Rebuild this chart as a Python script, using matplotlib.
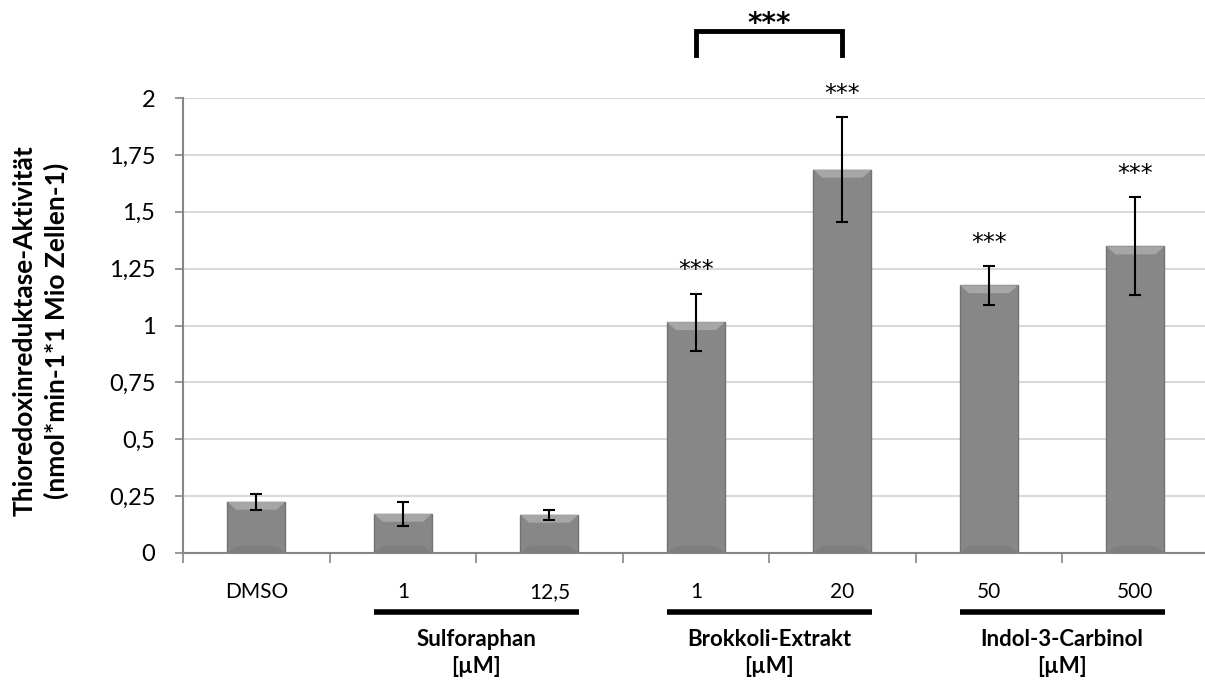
import matplotlib
matplotlib.use("Agg")
import matplotlib.pyplot as plt
from matplotlib.patches import Polygon

categories = ["DMSO", "1", "12,5", "1", "20", "50", "500"]
values = [0.225, 0.172, 0.168, 1.015, 1.685, 1.177, 1.348]
errors = [0.035, 0.053, 0.022, 0.125, 0.230, 0.085, 0.215]
stars = ["", "", "", "***", "***", "***", "***"]
group_names = ["Sulforaphan", "Brokkoli-Extrakt", "Indol-3-Carbinol"]
group_unit = "[µM]"
group_members = [(1, 2), (3, 4), (5, 6)]
yticks = [0, 0.25, 0.5, 0.75, 1, 1.25, 1.5, 1.75, 2]
ytick_labels = ["0", "0,25", "0,5", "0,75", "1", "1,25", "1,5", "1,75", "2"]
ylabel = "Thioredoxinreduktase-Aktivität\n(nmol*min-1*1 Mio Zellen-1)"
bracket_pair = (3, 4)
bracket_label = "***"

plt.rcParams['font.family'] = ['Lato', 'DejaVu Sans']

fig = plt.figure(figsize=(12.05, 6.81), dpi=100)
ax = fig.add_axes([0.152, 0.188, 0.851, 0.668])

x = list(range(len(categories)))
bw = 0.395
ax.bar(x, values, width=bw, color="#878787", edgecolor="#727272",
       linewidth=1.0, zorder=2)
# simple bevel highlight on top and bottom of each bar
for xi, v in zip(x, values):
    h = 0.035
    d = 0.06
    poly = Polygon([(xi - bw/2, v), (xi + bw/2, v), (xi + bw/2 - d, v - h), (xi - bw/2 + d, v - h)],
                   closed=True, facecolor="#a6a6a6", edgecolor="none", zorder=3)
    ax.add_patch(poly)
    poly2 = Polygon([(xi - bw/2, 0), (xi + bw/2, 0), (xi + bw/2 - d, 0.03), (xi - bw/2 + d, 0.03)],
                    closed=True, facecolor="#7e7e7e", edgecolor="none", zorder=3)
    ax.add_patch(poly2)

ax.errorbar(x, values, yerr=errors, fmt="none", ecolor="black", elinewidth=1.5,
            capsize=4.5, capthick=1.5, zorder=4)

for xi, v, e, s in zip(x, values, errors, stars):
    if s:
        ax.text(xi, v + e + 0.05, s, ha="center", va="bottom", fontsize=17,
                family="DejaVu Sans", zorder=5)

ax.set_xlim(-0.5, len(categories) - 0.5)
ax.set_ylim(0, 2)
ax.set_yticks(yticks)
ax.set_yticklabels(ytick_labels, fontsize=17)
ax.set_xticks(x)
ax.set_xticklabels(categories, fontsize=15)
ax.tick_params(axis="x", length=0, pad=21)
ax.set_xticks([i - 0.5 for i in range(len(categories) + 1)], minor=True)
ax.tick_params(axis="x", which="minor", length=7, color="#868686", width=1.2)
ax.tick_params(axis="y", length=6, color="#868686", width=1.2, pad=14)

ax.yaxis.grid(True, color="#d9d9d9", linewidth=1.5, zorder=0)
ax.set_axisbelow(True)
for sp in ["top", "right"]:
    ax.spines[sp].set_visible(False)
for sp in ["left", "bottom"]:
    ax.spines[sp].set_color("#868686")
    ax.spines[sp].set_linewidth(1.5)

fig.text(0.034, 0.514, ylabel, rotation=90, ha="center", va="center",
         fontsize=19, fontweight="bold", linespacing=1.35, multialignment="center")

# group lines and labels
trans = ax.get_xaxis_transform()
for (a, b), g in zip(group_members, group_names):
    ax.plot([a - 0.2, b + 0.2], [-0.13, -0.13], transform=trans, color="black",
            linewidth=4, clip_on=False, solid_capstyle="butt")
    ax.text((a + b) / 2, -0.19, g, transform=trans, ha="center", va="center",
            fontsize=16, fontweight="bold")
    ax.text((a + b) / 2, -0.249, group_unit, transform=trans, ha="center", va="center",
            fontsize=16, fontweight="bold")

# significance bracket
a, b = bracket_pair
ax.plot([a, a, b, b], [2.19, 2.295, 2.295, 2.19], color="black", linewidth=3.5,
        clip_on=False, solid_joinstyle="miter")
ax.text((a + b) / 2, 2.265, bracket_label, ha="center", va="bottom", fontsize=20,
        fontweight="bold", family="DejaVu Sans")

fig.savefig("out.png", dpi=100)
